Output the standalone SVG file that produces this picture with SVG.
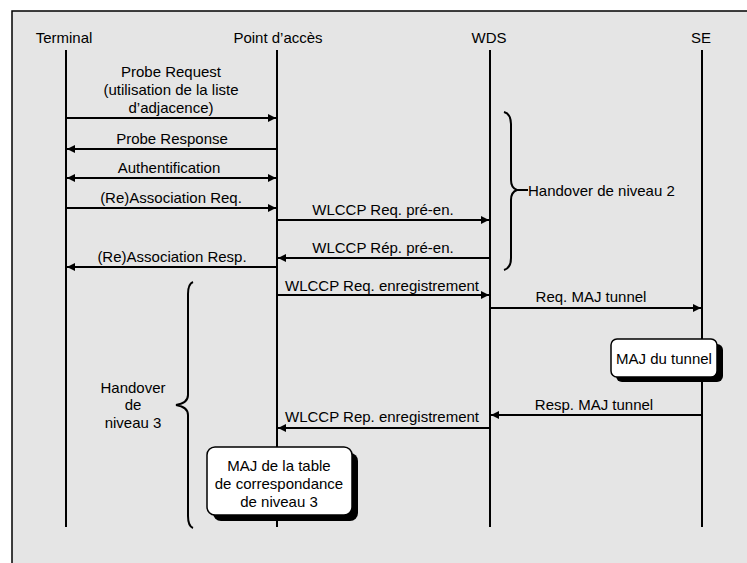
<svg xmlns="http://www.w3.org/2000/svg" width="747" height="563" viewBox="0 0 747 563">
  <style>
    text { font-family: "Liberation Sans", Arial, sans-serif; font-size: 15px; fill: #000; }
    .c { text-anchor: middle; }
    .life { stroke: #000; stroke-width: 2; }
    .msg { stroke: #000; stroke-width: 2; fill: none; }
    .brace { stroke: #000; stroke-width: 2; fill: none; }
    .box { fill: #fff; stroke: #000; stroke-width: 1.5; }
    .shadow { fill: #000; }
  </style>
  <defs>
    <marker id="ah" viewBox="0 0 8 8" refX="8" refY="4" markerWidth="4" markerHeight="4" orient="auto-start-reverse" markerUnits="strokeWidth">
      <path d="M0,0 L8,4 L0,8 Z" fill="#000"/>
    </marker>
  </defs>

  <rect x="0" y="0" width="747" height="563" fill="#fff"/>
  <rect x="12" y="11" width="745" height="562" fill="#e5e5e5" stroke="#000" stroke-width="1.5"/>

  <!-- participants -->
  <g id="terminal">
    <text class="c" x="64" y="43">Terminal</text>
    <line class="life" x1="66" y1="50" x2="66" y2="527"/>
  </g>
  <g id="point-acces">
    <text class="c" x="278" y="43">Point d’accès</text>
    <line class="life" x1="277" y1="50" x2="277" y2="527"/>
  </g>
  <g id="wds">
    <text class="c" x="489" y="43">WDS</text>
    <line class="life" x1="490" y1="50" x2="490" y2="527"/>
  </g>
  <g id="se">
    <text class="c" x="701" y="43">SE</text>
    <line class="life" x1="702" y1="50" x2="702" y2="527"/>
  </g>

  <!-- messages -->
  <g id="connectors">
    <line class="msg" x1="66" y1="118" x2="276" y2="118" marker-end="url(#ah)"/>
    <line class="msg" x1="277" y1="149" x2="67" y2="149" marker-end="url(#ah)"/>
    <line class="msg" x1="67" y1="178" x2="276" y2="178" marker-start="url(#ah)" marker-end="url(#ah)"/>
    <line class="msg" x1="66" y1="208" x2="276" y2="208" marker-end="url(#ah)"/>
    <line class="msg" x1="277" y1="220" x2="489" y2="220" marker-end="url(#ah)"/>
    <line class="msg" x1="490" y1="258" x2="278" y2="258" marker-end="url(#ah)"/>
    <line class="msg" x1="277" y1="267" x2="67" y2="267" marker-end="url(#ah)"/>
    <line class="msg" x1="277" y1="295" x2="489" y2="295" marker-end="url(#ah)"/>
    <line class="msg" x1="490" y1="308" x2="701" y2="308" marker-end="url(#ah)"/>
    <line class="msg" x1="702" y1="415" x2="491" y2="415" marker-end="url(#ah)"/>
    <line class="msg" x1="490" y1="428" x2="278" y2="428" marker-end="url(#ah)"/>
  </g>

  <!-- message labels -->
  <g id="labels">
    <text class="c" x="171" y="77">Probe Request</text>
    <text class="c" x="171" y="95">(utilisation de la liste</text>
    <text class="c" x="171" y="113">d’adjacence)</text>
    <text class="c" x="172" y="144">Probe Response</text>
    <text class="c" x="169" y="173">Authentification</text>
    <text class="c" x="171" y="203">(Re)Association Req.</text>
    <text class="c" x="383" y="215">WLCCP Req. pré-en.</text>
    <text class="c" x="383" y="253">WLCCP Rép. pré-en.</text>
    <text class="c" x="172" y="262">(Re)Association Resp.</text>
    <text class="c" x="382" y="291">WLCCP Req. enregistrement</text>
    <text class="c" x="591" y="302">Req. MAJ tunnel</text>
    <text class="c" x="594" y="410">Resp. MAJ tunnel</text>
    <text class="c" x="382" y="422">WLCCP Rep. enregistrement</text>
  </g>

  <!-- handover level 2 -->
  <g id="handover-2">
    <path class="brace" d="M504,112 Q511,114 511,124 L511,180 Q511,188 517,190 Q511,192 511,200 L511,258 Q511,268 504,270"/>
    <line class="brace" x1="516" y1="190" x2="528" y2="190" stroke-width="1.5"/>
    <text x="528" y="196">Handover de niveau 2</text>
  </g>

  <!-- handover level 3 -->
  <g id="handover-3">
    <path class="brace" d="M193,282 Q188,284 188,294 L188,395 Q188,403 176,405 Q188,407 188,415 L188,516 Q188,526 193,528"/>
    <text class="c" x="133" y="393">Handover</text>
    <text class="c" x="133" y="410">de</text>
    <text class="c" x="133" y="428">niveau 3</text>
  </g>

  <!-- tunnel update -->
  <g id="maj-tunnel">
    <rect class="shadow" x="616" y="344" width="107" height="38" rx="6"/>
    <rect class="box" x="611" y="339" width="106" height="38" rx="6"/>
    <text class="c" x="664" y="364">MAJ du tunnel</text>
  </g>

  <!-- mapping table update -->
  <g id="maj-table">
    <rect class="shadow" x="213" y="453" width="145" height="68" rx="8"/>
    <rect class="box" x="207" y="447" width="145" height="68" rx="8"/>
    <text class="c" x="279" y="471">MAJ de la table</text>
    <text class="c" x="279" y="489">de correspondance</text>
    <text class="c" x="279" y="507">de niveau 3</text>
  </g>
</svg>
